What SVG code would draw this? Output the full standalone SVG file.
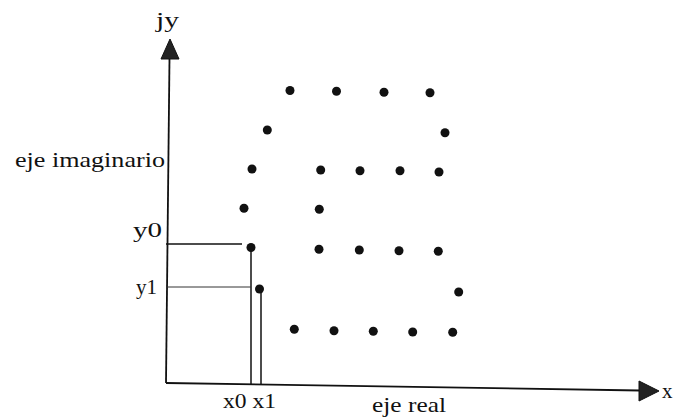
<svg xmlns="http://www.w3.org/2000/svg" width="675" height="420" viewBox="0 0 675 420">
<style>
.t{font-family:"Liberation Serif","Times New Roman",serif;fill:#111;}
.ax{stroke:#111;stroke-width:1.8;fill:none;}
.ln{stroke:#111;stroke-width:1.5;fill:none;}
.thin{stroke:#333;stroke-width:1;fill:none;}
.d{fill:#111;}
.ah{fill:#222;stroke:#111;stroke-width:1;}
</style>
<rect width="675" height="420" fill="#fff"/>
<g id="connectors">
<line class="ax" x1="166" y1="383" x2="169.5" y2="58"/>
<polygon class="ah" points="170,39 179,59 161,59"/>
<line class="ax" x1="166" y1="383" x2="640" y2="390.5"/>
<polygon class="ah" points="659,391 639,381 639,401"/>
<line class="ln" x1="166" y1="244" x2="242" y2="244"/>
<line class="ln" x1="251" y1="248" x2="251" y2="384"/>
<line class="thin" x1="166" y1="287" x2="251" y2="287"/>
<line class="ln" x1="261" y1="293" x2="261" y2="384"/>
</g>
<g id="labels">
<text class="t" x="156" y="27" font-size="21" textLength="23" lengthAdjust="spacingAndGlyphs">jy</text>
<text class="t" x="15" y="167" font-size="21" textLength="150" lengthAdjust="spacingAndGlyphs">eje imaginario</text>
<text class="t" x="133" y="237" font-size="21" textLength="29" lengthAdjust="spacingAndGlyphs">y0</text>
<text class="t" x="136" y="294" font-size="21" textLength="21" lengthAdjust="spacingAndGlyphs">y1</text>
<text class="t" x="223" y="408" font-size="21" textLength="53" lengthAdjust="spacingAndGlyphs">x0 x1</text>
<text class="t" x="372" y="412" font-size="21" textLength="74" lengthAdjust="spacingAndGlyphs">eje real</text>
<text class="t" x="662" y="398" font-size="21">x</text>
</g>
<g id="dots">
<circle class="d" id="p1" cx="290" cy="90.5" r="4.5"/>
<circle class="d" id="p2" cx="336.5" cy="91.3" r="4.5"/>
<circle class="d" id="p3" cx="384" cy="92.3" r="4.5"/>
<circle class="d" id="p4" cx="430" cy="92.7" r="4.5"/>
<circle class="d" id="p5" cx="267.3" cy="130" r="4.5"/>
<circle class="d" id="p6" cx="445" cy="132.7" r="4.5"/>
<circle class="d" id="p7" cx="252" cy="169" r="4.5"/>
<circle class="d" id="p8" cx="320.7" cy="170" r="4.5"/>
<circle class="d" id="p9" cx="360" cy="170.7" r="4.5"/>
<circle class="d" id="p10" cx="400" cy="170.7" r="4.5"/>
<circle class="d" id="p11" cx="439" cy="172" r="4.5"/>
<circle class="d" id="p12" cx="244" cy="208.3" r="4.5"/>
<circle class="d" id="p13" cx="319.3" cy="209.3" r="4.5"/>
<circle class="d" id="p14" cx="251" cy="247.5" r="4.5"/>
<circle class="d" id="p15" cx="319" cy="249.3" r="4.5"/>
<circle class="d" id="p16" cx="359.3" cy="250" r="4.5"/>
<circle class="d" id="p17" cx="399" cy="250.7" r="4.5"/>
<circle class="d" id="p18" cx="438.3" cy="251.3" r="4.5"/>
<circle class="d" id="p19" cx="259.5" cy="289" r="4.5"/>
<circle class="d" id="p20" cx="458.7" cy="292" r="4.5"/>
<circle class="d" id="p21" cx="294.3" cy="329.3" r="4.5"/>
<circle class="d" id="p22" cx="334" cy="330.7" r="4.5"/>
<circle class="d" id="p23" cx="373.3" cy="331.3" r="4.5"/>
<circle class="d" id="p24" cx="412.7" cy="332" r="4.5"/>
<circle class="d" id="p25" cx="452.7" cy="332.3" r="4.5"/>
</g>
</svg>
